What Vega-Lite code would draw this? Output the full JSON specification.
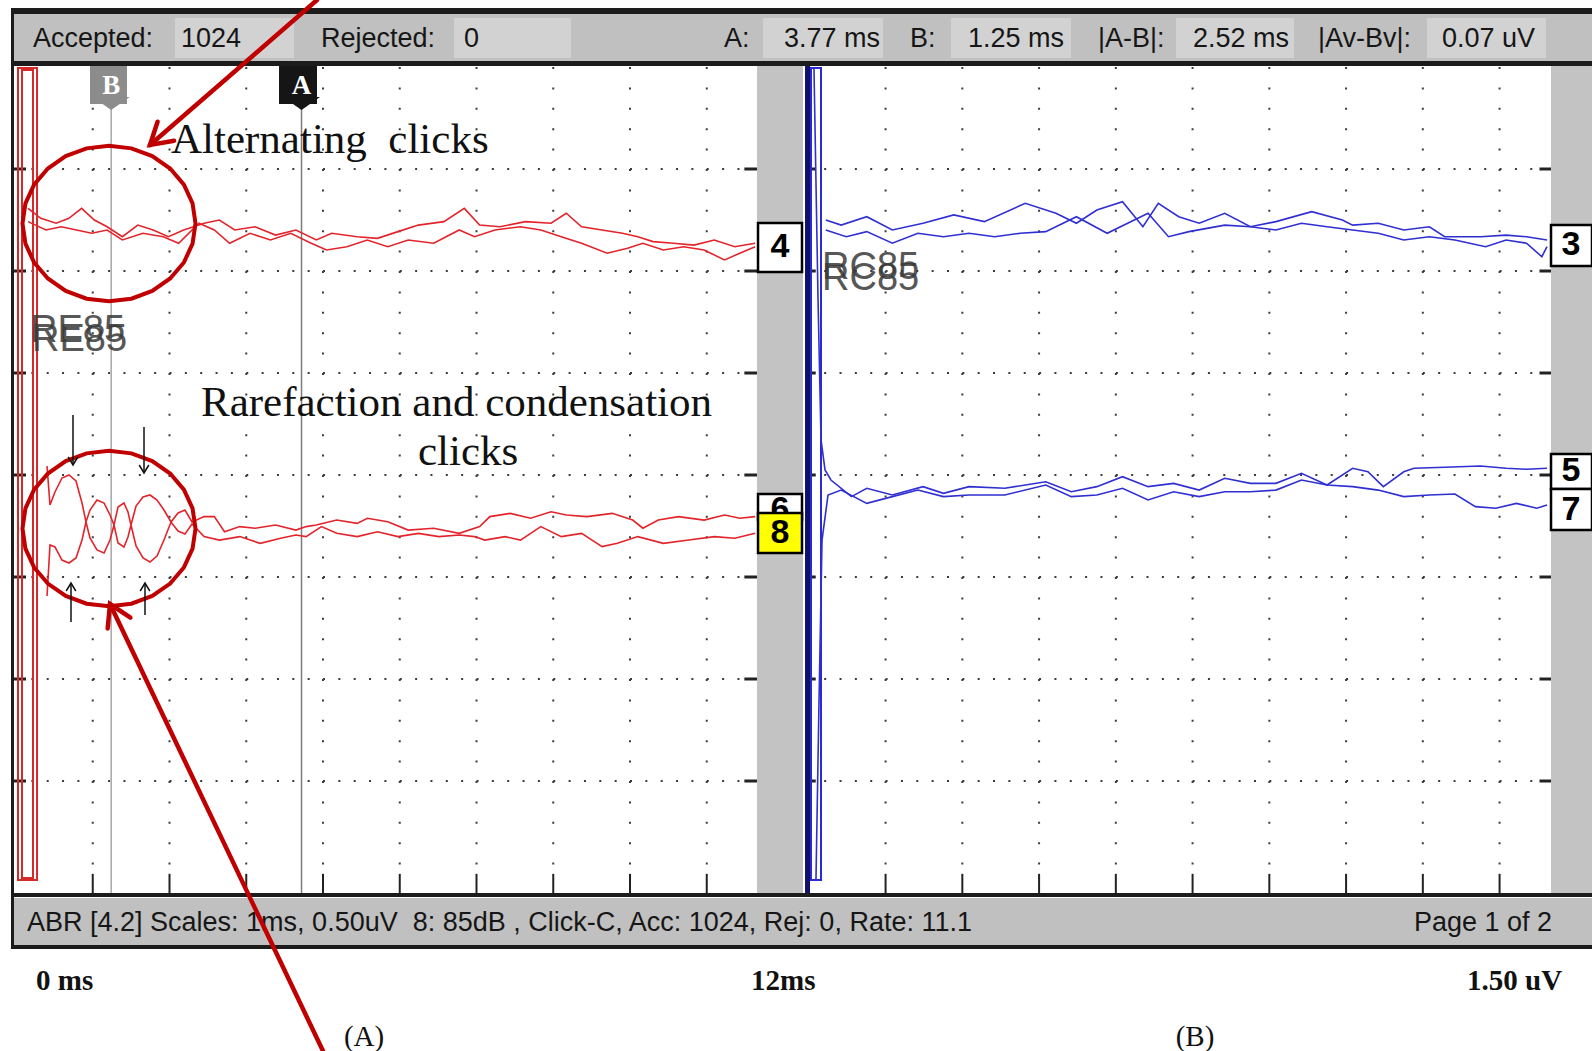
{
"$schema": "https://vega.github.io/schema/vega-lite/v6.json",
"width": 1592, "height": 1051,
"autosize": {"type": "none"},
"padding": 0,
"background": "#ffffff",
"config": {"view": {"stroke": null}, "axis": {"disable": true}, "legend": {"disable": true}},
"datasets": {
"rects": [
{"part":"dark","t":-0.0651,"t2":20.5342,"v":2.2892,"v2":2.2598},
{"part":"header","t":-0.0261,"t2":20.5342,"v":2.2598,"v2":2.0294},
{"part":"box","t":2.0717,"t2":3.6221,"v":2.2402,"v2":2.0441},
{"part":"box","t":5.7068,"t2":7.2313,"v":2.2402,"v2":2.0441},
{"part":"box","t":9.7329,"t2":11.2964,"v":2.2402,"v2":2.0441},
{"part":"box","t":12.1824,"t2":13.7459,"v":2.2402,"v2":2.0441},
{"part":"box","t":15.114,"t2":16.652,"v":2.2402,"v2":2.0441},
{"part":"box","t":18.384,"t2":19.935,"v":2.2402,"v2":2.0441},
{"part":"dark","t":-0.0651,"t2":20.5342,"v":2.0294,"v2":2.0049},
{"part":"strip","t":9.6547,"t2":10.2541,"v":2.0049,"v2":-2.049},
{"part":"strip","t":20.0,"t2":20.5342,"v":2.0049,"v2":-2.049},
{"part":"dark","t":-0.0651,"t2":20.5342,"v":-2.049,"v2":-2.0686},
{"part":"header","t":-0.0261,"t2":20.5342,"v":-2.0735,"v2":-2.3039},
{"part":"dark","t":-0.0651,"t2":20.5342,"v":-2.3039,"v2":-2.3235},
{"part":"dark","t":-0.0651,"t2":-0.0261,"v":2.2892,"v2":-2.3235}
],
"vgrid": [
{"kind":"dot","t":1,"v":2.0,"v2":-2.0},{"kind":"dot","t":2,"v":2.0,"v2":-2.0},{"kind":"dot","t":3,"v":2.0,"v2":-2.0},{"kind":"dot","t":4,"v":2.0,"v2":-2.0},{"kind":"dot","t":5,"v":2.0,"v2":-2.0},{"kind":"dot","t":6,"v":2.0,"v2":-2.0},{"kind":"dot","t":7,"v":2.0,"v2":-2.0},{"kind":"dot","t":8,"v":2.0,"v2":-2.0},{"kind":"dot","t":9,"v":2.0,"v2":-2.0},
{"kind":"dot","t":11.33,"v":2.0,"v2":-2.0},{"kind":"dot","t":12.33,"v":2.0,"v2":-2.0},{"kind":"dot","t":13.33,"v":2.0,"v2":-2.0},{"kind":"dot","t":14.33,"v":2.0,"v2":-2.0},{"kind":"dot","t":15.33,"v":2.0,"v2":-2.0},{"kind":"dot","t":16.33,"v":2.0,"v2":-2.0},{"kind":"dot","t":17.33,"v":2.0,"v2":-2.0},{"kind":"dot","t":18.33,"v":2.0,"v2":-2.0},{"kind":"dot","t":19.33,"v":2.0,"v2":-2.0},
{"kind":"tick","t":1,"v":-1.955,"v2":-2.049},{"kind":"tick","t":2,"v":-1.955,"v2":-2.049},{"kind":"tick","t":3,"v":-1.955,"v2":-2.049},{"kind":"tick","t":4,"v":-1.955,"v2":-2.049},{"kind":"tick","t":5,"v":-1.955,"v2":-2.049},{"kind":"tick","t":6,"v":-1.955,"v2":-2.049},{"kind":"tick","t":7,"v":-1.955,"v2":-2.049},{"kind":"tick","t":8,"v":-1.955,"v2":-2.049},{"kind":"tick","t":9,"v":-1.955,"v2":-2.049},
{"kind":"tick","t":11.33,"v":-1.955,"v2":-2.049},{"kind":"tick","t":12.33,"v":-1.955,"v2":-2.049},{"kind":"tick","t":13.33,"v":-1.955,"v2":-2.049},{"kind":"tick","t":14.33,"v":-1.955,"v2":-2.049},{"kind":"tick","t":15.33,"v":-1.955,"v2":-2.049},{"kind":"tick","t":16.33,"v":-1.955,"v2":-2.049},{"kind":"tick","t":17.33,"v":-1.955,"v2":-2.049},{"kind":"tick","t":18.33,"v":-1.955,"v2":-2.049},{"kind":"tick","t":19.33,"v":-1.955,"v2":-2.049}
],
"hgrid": [
{"kind":"dot","v":1.5,"t":0,"t2":9.6547},{"kind":"dot","v":1.0,"t":0,"t2":9.6547},{"kind":"dot","v":0.5,"t":0,"t2":9.6547},{"kind":"dot","v":0.0,"t":0,"t2":9.6547},{"kind":"dot","v":-0.5,"t":0,"t2":9.6547},{"kind":"dot","v":-1.0,"t":0,"t2":9.6547},{"kind":"dot","v":-1.5,"t":0,"t2":9.6547},
{"kind":"dot","v":1.5,"t":10.33,"t2":20.0},{"kind":"dot","v":1.0,"t":10.33,"t2":20.0},{"kind":"dot","v":0.5,"t":10.33,"t2":20.0},{"kind":"dot","v":0.0,"t":10.33,"t2":20.0},{"kind":"dot","v":-0.5,"t":10.33,"t2":20.0},{"kind":"dot","v":-1.0,"t":10.33,"t2":20.0},{"kind":"dot","v":-1.5,"t":10.33,"t2":20.0},
{"kind":"dash","v":1.5,"t":-0.0261,"t2":0.13},{"kind":"dash","v":1.0,"t":-0.0261,"t2":0.13},{"kind":"dash","v":0.5,"t":-0.0261,"t2":0.13},{"kind":"dash","v":0.0,"t":-0.0261,"t2":0.13},{"kind":"dash","v":-0.5,"t":-0.0261,"t2":0.13},{"kind":"dash","v":-1.0,"t":-0.0261,"t2":0.13},{"kind":"dash","v":-1.5,"t":-0.0261,"t2":0.13},
{"kind":"dash","v":1.5,"t":9.49,"t2":9.6547},{"kind":"dash","v":1.0,"t":9.49,"t2":9.6547},{"kind":"dash","v":0.5,"t":9.49,"t2":9.6547},{"kind":"dash","v":0.0,"t":9.49,"t2":9.6547},{"kind":"dash","v":-0.5,"t":9.49,"t2":9.6547},{"kind":"dash","v":-1.0,"t":9.49,"t2":9.6547},{"kind":"dash","v":-1.5,"t":9.49,"t2":9.6547},
{"kind":"dash","v":1.5,"t":10.3,"t2":10.42},{"kind":"dash","v":1.0,"t":10.3,"t2":10.42},{"kind":"dash","v":0.5,"t":10.3,"t2":10.42},{"kind":"dash","v":0.0,"t":10.3,"t2":10.42},{"kind":"dash","v":-0.5,"t":10.3,"t2":10.42},{"kind":"dash","v":-1.0,"t":10.3,"t2":10.42},{"kind":"dash","v":-1.5,"t":10.3,"t2":10.42},
{"kind":"dash","v":1.5,"t":19.85,"t2":20.0},{"kind":"dash","v":1.0,"t":19.85,"t2":20.0},{"kind":"dash","v":0.5,"t":19.85,"t2":20.0},{"kind":"dash","v":0.0,"t":19.85,"t2":20.0},{"kind":"dash","v":-0.5,"t":19.85,"t2":20.0},{"kind":"dash","v":-1.0,"t":19.85,"t2":20.0},{"kind":"dash","v":-1.5,"t":19.85,"t2":20.0}
],
"cursors": [
{"name":"B","t":1.24,"t1":0.964,"t2":1.446,"v":2.0049,"vt":1.8186,"vb":-2.049,"vc":1.9069,"vp":1.7892},
{"name":"A","t":3.72,"t1":3.427,"t2":3.922,"v":2.0049,"vt":1.8186,"vb":-2.049,"vc":1.9069,"vp":1.7892}
],
"stimA": [{"t":0.026,"t2":0.274,"v":1.995,"v2":-1.985},{"t":0.0782,"t2":0.2215,"v":1.9853,"v2":-1.9755}],
"stimB": [{"t":10.3583,"t2":10.4886,"v":1.995,"v2":-1.985}],
"sep": [{"t":10.313,"v":2.0049,"v2":-2.049}],
"traces": [
{"p":"A","s":"A4-1","t":0.157,"v":1.307},{"p":"A","s":"A4-1","t":0.323,"v":1.258},{"p":"A","s":"A4-1","t":0.523,"v":1.234},{"p":"A","s":"A4-1","t":0.689,"v":1.258},{"p":"A","s":"A4-1","t":0.855,"v":1.307},{"p":"A","s":"A4-1","t":1.021,"v":1.25},{"p":"A","s":"A4-1","t":1.187,"v":1.217},{"p":"A","s":"A4-1","t":1.386,"v":1.168},{"p":"A","s":"A4-1","t":1.587,"v":1.225},{"p":"A","s":"A4-1","t":1.786,"v":1.201},{"p":"A","s":"A4-1","t":1.986,"v":1.168},{"p":"A","s":"A4-1","t":2.185,"v":1.201},{"p":"A","s":"A4-1","t":2.451,"v":1.234},{"p":"A","s":"A4-1","t":2.65,"v":1.25},{"p":"A","s":"A4-1","t":2.85,"v":1.201},{"p":"A","s":"A4-1","t":3.115,"v":1.217},{"p":"A","s":"A4-1","t":3.381,"v":1.176},{"p":"A","s":"A4-1","t":3.647,"v":1.201},{"p":"A","s":"A4-1","t":3.913,"v":1.152},{"p":"A","s":"A4-1","t":4.112,"v":1.185},{"p":"A","s":"A4-1","t":4.444,"v":1.168},{"p":"A","s":"A4-1","t":4.71,"v":1.16},{"p":"A","s":"A4-1","t":4.977,"v":1.193},{"p":"A","s":"A4-1","t":5.243,"v":1.225},{"p":"A","s":"A4-1","t":5.575,"v":1.242},{"p":"A","s":"A4-1","t":5.841,"v":1.307},{"p":"A","s":"A4-1","t":6.04,"v":1.225},{"p":"A","s":"A4-1","t":6.306,"v":1.217},{"p":"A","s":"A4-1","t":6.638,"v":1.242},{"p":"A","s":"A4-1","t":6.971,"v":1.234},{"p":"A","s":"A4-1","t":7.17,"v":1.283},{"p":"A","s":"A4-1","t":7.369,"v":1.217},{"p":"A","s":"A4-1","t":7.635,"v":1.201},{"p":"A","s":"A4-1","t":7.901,"v":1.185},{"p":"A","s":"A4-1","t":8.102,"v":1.168},{"p":"A","s":"A4-1","t":8.301,"v":1.144},{"p":"A","s":"A4-1","t":8.567,"v":1.136},{"p":"A","s":"A4-1","t":8.833,"v":1.127},{"p":"A","s":"A4-1","t":9.098,"v":1.152},{"p":"A","s":"A4-1","t":9.364,"v":1.119},{"p":"A","s":"A4-1","t":9.63,"v":1.136},
{"p":"A","s":"A4-2","t":0.157,"v":1.242},{"p":"A","s":"A4-2","t":0.39,"v":1.201},{"p":"A","s":"A4-2","t":0.589,"v":1.217},{"p":"A","s":"A4-2","t":0.788,"v":1.201},{"p":"A","s":"A4-2","t":0.988,"v":1.185},{"p":"A","s":"A4-2","t":1.187,"v":1.201},{"p":"A","s":"A4-2","t":1.386,"v":1.152},{"p":"A","s":"A4-2","t":1.653,"v":1.185},{"p":"A","s":"A4-2","t":1.919,"v":1.168},{"p":"A","s":"A4-2","t":2.119,"v":1.136},{"p":"A","s":"A4-2","t":2.384,"v":1.234},{"p":"A","s":"A4-2","t":2.584,"v":1.201},{"p":"A","s":"A4-2","t":2.783,"v":1.136},{"p":"A","s":"A4-2","t":3.049,"v":1.185},{"p":"A","s":"A4-2","t":3.315,"v":1.152},{"p":"A","s":"A4-2","t":3.58,"v":1.185},{"p":"A","s":"A4-2","t":3.846,"v":1.136},{"p":"A","s":"A4-2","t":4.046,"v":1.103},{"p":"A","s":"A4-2","t":4.311,"v":1.119},{"p":"A","s":"A4-2","t":4.577,"v":1.152},{"p":"A","s":"A4-2","t":4.844,"v":1.119},{"p":"A","s":"A4-2","t":5.11,"v":1.152},{"p":"A","s":"A4-2","t":5.442,"v":1.136},{"p":"A","s":"A4-2","t":5.775,"v":1.201},{"p":"A","s":"A4-2","t":5.974,"v":1.168},{"p":"A","s":"A4-2","t":6.24,"v":1.201},{"p":"A","s":"A4-2","t":6.572,"v":1.217},{"p":"A","s":"A4-2","t":6.838,"v":1.201},{"p":"A","s":"A4-2","t":7.104,"v":1.168},{"p":"A","s":"A4-2","t":7.369,"v":1.136},{"p":"A","s":"A4-2","t":7.702,"v":1.087},{"p":"A","s":"A4-2","t":7.967,"v":1.111},{"p":"A","s":"A4-2","t":8.168,"v":1.136},{"p":"A","s":"A4-2","t":8.434,"v":1.103},{"p":"A","s":"A4-2","t":8.7,"v":1.119},{"p":"A","s":"A4-2","t":8.965,"v":1.103},{"p":"A","s":"A4-2","t":9.231,"v":1.054},{"p":"A","s":"A4-2","t":9.431,"v":1.087},{"p":"A","s":"A4-2","t":9.63,"v":1.119},
{"p":"A","s":"A8-1","t":0.404,"v":0.0441},{"p":"A","s":"A8-1","t":0.443,"v":-0.147},{"p":"A","s":"A8-1","t":0.508,"v":-0.0833},{"p":"A","s":"A8-1","t":0.599,"v":-0.0147},{"p":"A","s":"A8-1","t":0.691,"v":0.0},{"p":"A","s":"A8-1","t":0.782,"v":-0.0294},{"p":"A","s":"A8-1","t":0.86,"v":-0.1373},{"p":"A","s":"A8-1","t":0.912,"v":-0.2304},{"p":"A","s":"A8-1","t":0.964,"v":-0.1716},{"p":"A","s":"A8-1","t":1.055,"v":-0.1225},{"p":"A","s":"A8-1","t":1.147,"v":-0.1373},{"p":"A","s":"A8-1","t":1.225,"v":-0.1961},{"p":"A","s":"A8-1","t":1.277,"v":-0.2451},{"p":"A","s":"A8-1","t":1.329,"v":-0.1569},{"p":"A","s":"A8-1","t":1.407,"v":-0.1373},{"p":"A","s":"A8-1","t":1.459,"v":-0.1814},{"p":"A","s":"A8-1","t":1.498,"v":-0.2451},{"p":"A","s":"A8-1","t":1.564,"v":-0.152},{"p":"A","s":"A8-1","t":1.655,"v":-0.1078},{"p":"A","s":"A8-1","t":1.746,"v":-0.098},{"p":"A","s":"A8-1","t":1.837,"v":-0.1225},{"p":"A","s":"A8-1","t":1.928,"v":-0.1716},{"p":"A","s":"A8-1","t":2.02,"v":-0.2304},{"p":"A","s":"A8-1","t":2.111,"v":-0.1863},{"p":"A","s":"A8-1","t":2.202,"v":-0.1716},{"p":"A","s":"A8-1","t":2.293,"v":-0.2304},{"p":"A","s":"A8-1","t":2.451,"v":-0.204},{"p":"A","s":"A8-1","t":2.584,"v":-0.204},{"p":"A","s":"A8-1","t":2.717,"v":-0.278},{"p":"A","s":"A8-1","t":2.916,"v":-0.253},{"p":"A","s":"A8-1","t":3.116,"v":-0.261},{"p":"A","s":"A8-1","t":3.382,"v":-0.245},{"p":"A","s":"A8-1","t":3.647,"v":-0.27},{"p":"A","s":"A8-1","t":3.78,"v":-0.253},{"p":"A","s":"A8-1","t":3.913,"v":-0.245},{"p":"A","s":"A8-1","t":4.179,"v":-0.221},{"p":"A","s":"A8-1","t":4.445,"v":-0.237},{"p":"A","s":"A8-1","t":4.578,"v":-0.212},{"p":"A","s":"A8-1","t":4.844,"v":-0.229},{"p":"A","s":"A8-1","t":5.11,"v":-0.27},{"p":"A","s":"A8-1","t":5.442,"v":-0.261},{"p":"A","s":"A8-1","t":5.775,"v":-0.286},{"p":"A","s":"A8-1","t":6.041,"v":-0.253},{"p":"A","s":"A8-1","t":6.174,"v":-0.204},{"p":"A","s":"A8-1","t":6.44,"v":-0.188},{"p":"A","s":"A8-1","t":6.705,"v":-0.212},{"p":"A","s":"A8-1","t":6.971,"v":-0.18},{"p":"A","s":"A8-1","t":7.171,"v":-0.196},{"p":"A","s":"A8-1","t":7.437,"v":-0.204},{"p":"A","s":"A8-1","t":7.769,"v":-0.188},{"p":"A","s":"A8-1","t":8.035,"v":-0.221},{"p":"A","s":"A8-1","t":8.168,"v":-0.261},{"p":"A","s":"A8-1","t":8.368,"v":-0.221},{"p":"A","s":"A8-1","t":8.633,"v":-0.204},{"p":"A","s":"A8-1","t":8.966,"v":-0.221},{"p":"A","s":"A8-1","t":9.232,"v":-0.196},{"p":"A","s":"A8-1","t":9.431,"v":-0.212},{"p":"A","s":"A8-1","t":9.631,"v":-0.204},
{"p":"A","s":"A8-2","t":0.404,"v":-0.5931},{"p":"A","s":"A8-2","t":0.443,"v":-0.3431},{"p":"A","s":"A8-2","t":0.508,"v":-0.3529},{"p":"A","s":"A8-2","t":0.599,"v":-0.4167},{"p":"A","s":"A8-2","t":0.691,"v":-0.4314},{"p":"A","s":"A8-2","t":0.782,"v":-0.4069},{"p":"A","s":"A8-2","t":0.86,"v":-0.3186},{"p":"A","s":"A8-2","t":0.912,"v":-0.2304},{"p":"A","s":"A8-2","t":0.964,"v":-0.3088},{"p":"A","s":"A8-2","t":1.055,"v":-0.3676},{"p":"A","s":"A8-2","t":1.147,"v":-0.3824},{"p":"A","s":"A8-2","t":1.225,"v":-0.3186},{"p":"A","s":"A8-2","t":1.277,"v":-0.2451},{"p":"A","s":"A8-2","t":1.329,"v":-0.3333},{"p":"A","s":"A8-2","t":1.407,"v":-0.3529},{"p":"A","s":"A8-2","t":1.459,"v":-0.3039},{"p":"A","s":"A8-2","t":1.498,"v":-0.2451},{"p":"A","s":"A8-2","t":1.564,"v":-0.348},{"p":"A","s":"A8-2","t":1.655,"v":-0.4069},{"p":"A","s":"A8-2","t":1.746,"v":-0.4265},{"p":"A","s":"A8-2","t":1.837,"v":-0.3971},{"p":"A","s":"A8-2","t":1.928,"v":-0.3186},{"p":"A","s":"A8-2","t":2.02,"v":-0.2304},{"p":"A","s":"A8-2","t":2.111,"v":-0.2745},{"p":"A","s":"A8-2","t":2.202,"v":-0.2892},{"p":"A","s":"A8-2","t":2.293,"v":-0.2402},{"p":"A","s":"A8-2","t":2.451,"v":-0.302},{"p":"A","s":"A8-2","t":2.65,"v":-0.319},{"p":"A","s":"A8-2","t":2.916,"v":-0.302},{"p":"A","s":"A8-2","t":3.182,"v":-0.335},{"p":"A","s":"A8-2","t":3.448,"v":-0.31},{"p":"A","s":"A8-2","t":3.647,"v":-0.294},{"p":"A","s":"A8-2","t":3.78,"v":-0.302},{"p":"A","s":"A8-2","t":3.98,"v":-0.253},{"p":"A","s":"A8-2","t":4.179,"v":-0.286},{"p":"A","s":"A8-2","t":4.445,"v":-0.302},{"p":"A","s":"A8-2","t":4.711,"v":-0.278},{"p":"A","s":"A8-2","t":4.977,"v":-0.302},{"p":"A","s":"A8-2","t":5.243,"v":-0.286},{"p":"A","s":"A8-2","t":5.509,"v":-0.302},{"p":"A","s":"A8-2","t":5.775,"v":-0.294},{"p":"A","s":"A8-2","t":5.974,"v":-0.302},{"p":"A","s":"A8-2","t":6.107,"v":-0.319},{"p":"A","s":"A8-2","t":6.373,"v":-0.302},{"p":"A","s":"A8-2","t":6.573,"v":-0.319},{"p":"A","s":"A8-2","t":6.838,"v":-0.253},{"p":"A","s":"A8-2","t":7.104,"v":-0.302},{"p":"A","s":"A8-2","t":7.37,"v":-0.286},{"p":"A","s":"A8-2","t":7.636,"v":-0.351},{"p":"A","s":"A8-2","t":7.836,"v":-0.335},{"p":"A","s":"A8-2","t":8.102,"v":-0.302},{"p":"A","s":"A8-2","t":8.434,"v":-0.335},{"p":"A","s":"A8-2","t":8.766,"v":-0.319},{"p":"A","s":"A8-2","t":9.099,"v":-0.302},{"p":"A","s":"A8-2","t":9.365,"v":-0.31},{"p":"A","s":"A8-2","t":9.631,"v":-0.286},
{"p":"B","s":"B3-1","t":10.551,"v":1.25},{"p":"B","s":"B3-1","t":10.751,"v":1.225},{"p":"B","s":"B3-1","t":11.085,"v":1.266},{"p":"B","s":"B3-1","t":11.418,"v":1.201},{"p":"B","s":"B3-1","t":11.818,"v":1.234},{"p":"B","s":"B3-1","t":12.218,"v":1.275},{"p":"B","s":"B3-1","t":12.617,"v":1.242},{"p":"B","s":"B3-1","t":13.15,"v":1.332},{"p":"B","s":"B3-1","t":13.55,"v":1.283},{"p":"B","s":"B3-1","t":13.817,"v":1.234},{"p":"B","s":"B3-1","t":14.083,"v":1.299},{"p":"B","s":"B3-1","t":14.417,"v":1.34},{"p":"B","s":"B3-1","t":14.683,"v":1.217},{"p":"B","s":"B3-1","t":14.883,"v":1.332},{"p":"B","s":"B3-1","t":15.15,"v":1.266},{"p":"B","s":"B3-1","t":15.416,"v":1.234},{"p":"B","s":"B3-1","t":15.749,"v":1.283},{"p":"B","s":"B3-1","t":16.083,"v":1.217},{"p":"B","s":"B3-1","t":16.416,"v":1.242},{"p":"B","s":"B3-1","t":16.882,"v":1.291},{"p":"B","s":"B3-1","t":17.282,"v":1.25},{"p":"B","s":"B3-1","t":17.415,"v":1.225},{"p":"B","s":"B3-1","t":17.749,"v":1.234},{"p":"B","s":"B3-1","t":18.082,"v":1.201},{"p":"B","s":"B3-1","t":18.415,"v":1.217},{"p":"B","s":"B3-1","t":18.615,"v":1.168},{"p":"B","s":"B3-1","t":19.081,"v":1.168},{"p":"B","s":"B3-1","t":19.415,"v":1.176},{"p":"B","s":"B3-1","t":19.681,"v":1.168},{"p":"B","s":"B3-1","t":19.948,"v":1.152},
{"p":"B","s":"B3-2","t":10.551,"v":1.201},{"p":"B","s":"B3-2","t":10.818,"v":1.168},{"p":"B","s":"B3-2","t":11.085,"v":1.193},{"p":"B","s":"B3-2","t":11.418,"v":1.136},{"p":"B","s":"B3-2","t":11.751,"v":1.185},{"p":"B","s":"B3-2","t":12.084,"v":1.168},{"p":"B","s":"B3-2","t":12.417,"v":1.185},{"p":"B","s":"B3-2","t":12.751,"v":1.168},{"p":"B","s":"B3-2","t":13.084,"v":1.185},{"p":"B","s":"B3-2","t":13.417,"v":1.193},{"p":"B","s":"B3-2","t":13.817,"v":1.266},{"p":"B","s":"B3-2","t":14.217,"v":1.185},{"p":"B","s":"B3-2","t":14.75,"v":1.283},{"p":"B","s":"B3-2","t":15.016,"v":1.168},{"p":"B","s":"B3-2","t":15.283,"v":1.193},{"p":"B","s":"B3-2","t":15.749,"v":1.225},{"p":"B","s":"B3-2","t":16.083,"v":1.217},{"p":"B","s":"B3-2","t":16.416,"v":1.201},{"p":"B","s":"B3-2","t":16.749,"v":1.234},{"p":"B","s":"B3-2","t":17.082,"v":1.217},{"p":"B","s":"B3-2","t":17.415,"v":1.201},{"p":"B","s":"B3-2","t":17.749,"v":1.185},{"p":"B","s":"B3-2","t":18.082,"v":1.152},{"p":"B","s":"B3-2","t":18.415,"v":1.168},{"p":"B","s":"B3-2","t":18.748,"v":1.152},{"p":"B","s":"B3-2","t":19.148,"v":1.119},{"p":"B","s":"B3-2","t":19.415,"v":1.152},{"p":"B","s":"B3-2","t":19.681,"v":1.136},{"p":"B","s":"B3-2","t":19.881,"v":1.07},{"p":"B","s":"B3-2","t":19.948,"v":1.119},
{"p":"B","s":"B5","t":10.397,"v":1.995},{"p":"B","s":"B5","t":10.45,"v":0.858},{"p":"B","s":"B5","t":10.489,"v":0.172},{"p":"B","s":"B5","t":10.541,"v":0.025},{"p":"B","s":"B5","t":10.618,"v":-0.0245},{"p":"B","s":"B5","t":10.885,"v":-0.106},{"p":"B","s":"B5","t":11.085,"v":-0.065},{"p":"B","s":"B5","t":11.418,"v":-0.098},{"p":"B","s":"B5","t":11.818,"v":-0.057},{"p":"B","s":"B5","t":12.084,"v":-0.09},{"p":"B","s":"B5","t":12.417,"v":-0.057},{"p":"B","s":"B5","t":12.884,"v":-0.065},{"p":"B","s":"B5","t":13.417,"v":-0.033},{"p":"B","s":"B5","t":13.75,"v":-0.082},{"p":"B","s":"B5","t":14.083,"v":-0.057},{"p":"B","s":"B5","t":14.417,"v":-0.008},{"p":"B","s":"B5","t":14.75,"v":-0.057},{"p":"B","s":"B5","t":15.083,"v":-0.041},{"p":"B","s":"B5","t":15.416,"v":-0.074},{"p":"B","s":"B5","t":15.749,"v":-0.016},{"p":"B","s":"B5","t":16.083,"v":-0.041},{"p":"B","s":"B5","t":16.416,"v":-0.041},{"p":"B","s":"B5","t":16.749,"v":0.008},{"p":"B","s":"B5","t":17.082,"v":-0.049},{"p":"B","s":"B5","t":17.415,"v":0.033},{"p":"B","s":"B5","t":17.615,"v":0.016},{"p":"B","s":"B5","t":17.815,"v":-0.057},{"p":"B","s":"B5","t":18.082,"v":0.016},{"p":"B","s":"B5","t":18.215,"v":0.033},{"p":"B","s":"B5","t":18.615,"v":0.038},{"p":"B","s":"B5","t":19.081,"v":0.044},{"p":"B","s":"B5","t":19.415,"v":0.033},{"p":"B","s":"B5","t":19.681,"v":0.028},{"p":"B","s":"B5","t":19.948,"v":0.033},
{"p":"B","s":"B7","t":10.423,"v":-1.985},{"p":"B","s":"B7","t":10.463,"v":-1.103},{"p":"B","s":"B7","t":10.502,"v":-0.319},{"p":"B","s":"B7","t":10.58,"v":-0.098},{"p":"B","s":"B7","t":10.751,"v":-0.074},{"p":"B","s":"B7","t":11.085,"v":-0.139},{"p":"B","s":"B7","t":11.418,"v":-0.106},{"p":"B","s":"B7","t":11.751,"v":-0.074},{"p":"B","s":"B7","t":12.084,"v":-0.106},{"p":"B","s":"B7","t":12.417,"v":-0.098},{"p":"B","s":"B7","t":12.884,"v":-0.098},{"p":"B","s":"B7","t":13.417,"v":-0.049},{"p":"B","s":"B7","t":13.75,"v":-0.106},{"p":"B","s":"B7","t":14.083,"v":-0.098},{"p":"B","s":"B7","t":14.417,"v":-0.065},{"p":"B","s":"B7","t":14.75,"v":-0.1225},{"p":"B","s":"B7","t":15.083,"v":-0.082},{"p":"B","s":"B7","t":15.416,"v":-0.106},{"p":"B","s":"B7","t":15.749,"v":-0.082},{"p":"B","s":"B7","t":16.083,"v":-0.082},{"p":"B","s":"B7","t":16.416,"v":-0.074},{"p":"B","s":"B7","t":16.749,"v":-0.0245},{"p":"B","s":"B7","t":17.082,"v":-0.049},{"p":"B","s":"B7","t":17.415,"v":-0.057},{"p":"B","s":"B7","t":17.749,"v":-0.074},{"p":"B","s":"B7","t":18.082,"v":-0.106},{"p":"B","s":"B7","t":18.415,"v":-0.098},{"p":"B","s":"B7","t":18.748,"v":-0.093},{"p":"B","s":"B7","t":19.015,"v":-0.155},{"p":"B","s":"B7","t":19.281,"v":-0.163},{"p":"B","s":"B7","t":19.548,"v":-0.139},{"p":"B","s":"B7","t":19.815,"v":-0.163},{"p":"B","s":"B7","t":19.948,"v":-0.147}
],
"tags": [
{"lab":"4","sel":"no","t":9.668,"t2":10.241,"v":1.2353,"v2":0.9951,"tc":9.954,"vc":1.1176},
{"lab":"6","sel":"no","t":9.668,"t2":10.241,"v":-0.0931,"v2":-0.2206,"tc":9.954,"vc":-0.1716},
{"lab":"8","sel":"yes","t":9.668,"t2":10.241,"v":-0.1863,"v2":-0.3824,"tc":9.954,"vc":-0.2843},
{"lab":"3","sel":"no","t":20.0,"t2":20.5342,"v":1.2255,"v2":1.0245,"tc":20.26,"vc":1.1275},
{"lab":"5","sel":"no","t":20.0,"t2":20.5342,"v":0.1029,"v2":-0.0686,"tc":20.26,"vc":0.0196},
{"lab":"7","sel":"no","t":20.0,"t2":20.5342,"v":-0.0686,"v2":-0.2696,"tc":20.26,"vc":-0.1716}
],
"texts": [
{"style":"hdr","txt":"Accepted:","t":0.2215,"v":2.1373},
{"style":"hdr","txt":"1024","t":2.1498,"v":2.1373},
{"style":"hdr","txt":"Rejected:","t":3.9739,"v":2.1373},
{"style":"hdr","txt":"0","t":5.8371,"v":2.1373},
{"style":"hdr","txt":"A:","t":9.2248,"v":2.1373},
{"style":"hdr","txt":"3.77 ms","t":10.0065,"v":2.1373},
{"style":"hdr","txt":"B:","t":11.6482,"v":2.1373},
{"style":"hdr","txt":"1.25 ms","t":12.404,"v":2.1373},
{"style":"hdr","txt":"|A-B|:","t":14.098,"v":2.1373},
{"style":"hdr","txt":"2.52 ms","t":15.336,"v":2.1373},
{"style":"hdr","txt":"|Av-Bv|:","t":16.964,"v":2.1373},
{"style":"hdr","txt":"0.07 uV","t":18.58,"v":2.1373},
{"style":"hdr","txt":"ABR [4.2] Scales: 1ms, 0.50uV\u00a0 8: 85dB , Click-C, Acc: 1024, Rej: 0, Rate: 11.1","t":0.1433,"v":-2.1961},
{"style":"hdr","txt":"Page 1 of 2","t":18.215,"v":-2.1961},
{"style":"ann","txt":"Alternating\u00a0 clicks","t":2.0195,"v":1.6422},
{"style":"ann","txt":"Rarefaction and condensation","t":2.4104,"v":0.3529},
{"style":"ann","txt":"clicks","t":5.2378,"v":0.1127},
{"style":"bot","txt":"0 ms","t":0.2606,"v":-2.4804},
{"style":"bot","txt":"12ms","t":9.5765,"v":-2.4804},
{"style":"bot","txt":"1.50 uV","t":18.9055,"v":-2.4804},
{"style":"cap","txt":"(A)","t":4.5342,"v":-2.7549},
{"style":"cap","txt":"(B)","t":15.3616,"v":-2.7549},
{"style":"rc","txt":"RC85","t":10.5016,"v":1.0147},
{"style":"rc","txt":"RC85","t":10.5016,"v":0.9608},
{"style":"rc","txt":"RE85","t":0.1824,"v":0.7059},
{"style":"rc","txt":"RE85","t":0.2084,"v":0.6618}
],
"rings": [{"t":1.2117,"v":1.2328},{"t":1.2117,"v":-0.2623}],
"redarrows": [
{"a":"top","t":3.9218,"v":2.3284},{"a":"top","t":1.7459,"v":1.6176},
{"a":"bottom","t":4.0,"v":-2.8235},{"a":"bottom","t":1.2248,"v":-0.6324}
],
"smallarrows": [
{"dir":"down","t":0.7427,"v":0.2941,"v2":0.049,"vh":0.049},
{"dir":"down","t":1.6678,"v":0.2353,"v2":0.0098,"vh":0.0098},
{"dir":"up","t":0.7166,"v":-0.5294,"v2":-0.7206,"vh":-0.5294},
{"dir":"up","t":1.6808,"v":-0.5294,"v2":-0.6863,"vh":-0.5294}
]
},
"encoding": {
"x": {"field":"t","type":"quantitative","scale":{"domain":[-0.2085,20.5342],"nice":false,"zero":false},"axis":null},
"y": {"field":"v","type":"quantitative","scale":{"domain":[-2.8235,2.3284],"nice":false,"zero":false},"axis":null}
},
"resolve": {"scale": {"color":"independent","fill":"independent","stroke":"independent"}},
"layer": [
{"data":{"name":"rects"},"mark":{"type":"rect"},
 "encoding":{"x2":{"field":"t2"},"y2":{"field":"v2"},
  "color":{"field":"part","type":"nominal","scale":{"domain":["dark","header","box","strip"],"range":["#1c1c1c","#c0c0c0","#d2d2d2","#c3c3c3"]},"legend":null}}},
{"data":{"name":"vgrid"},"transform":[{"filter":"datum.kind == 'dot'"}],"mark":{"type":"rule","strokeDash":[2,18.4],"strokeWidth":2,"color":"#3c3c3c"},
 "encoding":{"y2":{"field":"v2"}}},
{"data":{"name":"vgrid"},"transform":[{"filter":"datum.kind == 'tick'"}],"mark":{"type":"rule","strokeWidth":2,"color":"#222222"},
 "encoding":{"y2":{"field":"v2"}}},
{"data":{"name":"hgrid"},"transform":[{"filter":"datum.kind == 'dot'"}],"mark":{"type":"rule","strokeDash":[2,13.35],"strokeWidth":2,"color":"#3c3c3c"},
 "encoding":{"x2":{"field":"t2"}}},
{"data":{"name":"hgrid"},"transform":[{"filter":"datum.kind == 'dash'"}],"mark":{"type":"rule","strokeWidth":3,"color":"#222222"},
 "encoding":{"x2":{"field":"t2"}}},
{"data":{"name":"cursors"},"mark":{"type":"rule","strokeWidth":1.5},
 "encoding":{"y":{"field":"vt","type":"quantitative"},"y2":{"field":"vb"},
  "color":{"field":"name","type":"nominal","scale":{"domain":["B","A"],"range":["#a6a6a6","#7c7c7c"]},"legend":null}}},
{"data":{"name":"stimA"},"mark":{"type":"rect","filled":false,"stroke":"#d42a2a","strokeWidth":2},
 "encoding":{"x2":{"field":"t2"},"y2":{"field":"v2"}}},
{"data":{"name":"stimB"},"mark":{"type":"rect","filled":false,"stroke":"#2a2ad8","strokeWidth":2},
 "encoding":{"x2":{"field":"t2"},"y2":{"field":"v2"}}},
{"data":{"name":"sep"},"mark":{"type":"rule","strokeWidth":5,"color":"#10106a"},
 "encoding":{"y2":{"field":"v2"}}},
{"data":{"name":"traces"},"mark":{"type":"line","strokeWidth":1.6},
 "encoding":{"detail":{"field":"s"},
  "color":{"field":"p","type":"nominal","scale":{"domain":["A","B"],"range":["#e3242b","#2f2fd2"]},"legend":null}}},
{"data":{"name":"tags"},"transform":[{"filter":"datum.lab != '8'"}],"mark":{"type":"rect","stroke":"#000000","strokeWidth":2.5},
 "encoding":{"x2":{"field":"t2"},"y2":{"field":"v2"},
  "fill":{"field":"sel","type":"nominal","scale":{"domain":["no","yes"],"range":["#ffffff","#ffff00"]},"legend":null}}},
{"data":{"name":"tags"},"transform":[{"filter":"datum.lab != '8'"}],"mark":{"type":"text","font":"Liberation Sans","fontWeight":"bold","fontSize":34,"align":"center","baseline":"middle","color":"#000000"},
 "encoding":{"x":{"field":"tc","type":"quantitative"},"y":{"field":"vc","type":"quantitative"},"text":{"field":"lab"}}},
{"data":{"name":"tags"},"transform":[{"filter":"datum.lab == '8'"}],"mark":{"type":"rect","stroke":"#000000","strokeWidth":2.5},
 "encoding":{"x2":{"field":"t2"},"y2":{"field":"v2"},
  "fill":{"field":"sel","type":"nominal","scale":{"domain":["no","yes"],"range":["#ffffff","#ffff00"]},"legend":null}}},
{"data":{"name":"tags"},"transform":[{"filter":"datum.lab == '8'"}],"mark":{"type":"text","font":"Liberation Sans","fontWeight":"bold","fontSize":34,"align":"center","baseline":"middle","color":"#000000"},
 "encoding":{"x":{"field":"tc","type":"quantitative"},"y":{"field":"vc","type":"quantitative"},"text":{"field":"lab"}}},
{"data":{"name":"cursors"},"mark":{"type":"rect"},
 "encoding":{"x":{"field":"t1","type":"quantitative"},"x2":{"field":"t2"},"y2":{"field":"vt"},
  "color":{"field":"name","type":"nominal","scale":{"domain":["B","A"],"range":["#8c8c8c","#151515"]},"legend":null}}},
{"data":{"name":"cursors"},"mark":{"type":"point","shape":"M-1,-0.7L1,-0.7L0,0Z","size":1369,"filled":true,"opacity":1,"strokeWidth":0},
 "encoding":{"y":{"field":"vp","type":"quantitative"},
  "color":{"field":"name","type":"nominal","scale":{"domain":["B","A"],"range":["#8c8c8c","#151515"]},"legend":null}}},
{"data":{"name":"cursors"},"mark":{"type":"text","font":"Liberation Serif","fontWeight":"bold","fontSize":27,"align":"center","baseline":"middle","color":"#ffffff"},
 "encoding":{"y":{"field":"vc","type":"quantitative"},"text":{"field":"name"}}},
{"data":{"name":"texts"},"transform":[{"filter":"datum.style == 'hdr'"}],"mark":{"type":"text","font":"Liberation Sans","fontSize":27,"align":"left","baseline":"middle","color":"#161616"},
 "encoding":{"text":{"field":"txt"}}},
{"data":{"name":"texts"},"transform":[{"filter":"datum.style == 'ann'"}],"mark":{"type":"text","font":"Liberation Serif","fontSize":43,"align":"left","baseline":"middle","color":"#111111"},
 "encoding":{"text":{"field":"txt"}}},
{"data":{"name":"texts"},"transform":[{"filter":"datum.style == 'bot'"}],"mark":{"type":"text","font":"Liberation Serif","fontWeight":"bold","fontSize":29,"align":"left","baseline":"middle","color":"#111111"},
 "encoding":{"text":{"field":"txt"}}},
{"data":{"name":"texts"},"transform":[{"filter":"datum.style == 'cap'"}],"mark":{"type":"text","font":"Liberation Serif","fontSize":29,"align":"center","baseline":"middle","color":"#111111"},
 "encoding":{"text":{"field":"txt"}}},
{"data":{"name":"texts"},"transform":[{"filter":"datum.style == 'rc'"}],"mark":{"type":"text","font":"Liberation Sans","fontSize":38,"align":"left","baseline":"middle","color":"#3a3a3a","opacity":0.85},
 "encoding":{"text":{"field":"txt"}}},
{"data":{"name":"rings"},"mark":{"type":"point","shape":"M1,0L0.966,0.233L0.866,0.45L0.707,0.636L0.5,0.779L0.259,0.869L0,0.9L-0.259,0.869L-0.5,0.779L-0.707,0.636L-0.866,0.45L-0.966,0.233L-1,0L-0.966,-0.233L-0.866,-0.45L-0.707,-0.636L-0.5,-0.779L-0.259,-0.869L0,-0.9L0.259,-0.869L0.5,-0.779L0.707,-0.636L0.866,-0.45L0.966,-0.233Z","size":29929,"filled":false,"stroke":"#c00000","strokeWidth":4,"opacity":1}},
{"data":{"name":"redarrows"},"mark":{"type":"line","color":"#c00000","strokeWidth":4.5,"strokeCap":"round"},
 "encoding":{"detail":{"field":"a"}}},
{"data":{"name":"redarrows"},"transform":[{"filter":"datum.a == 'top' && datum.v < 2"}],"mark":{"type":"point","shape":"M-0.6,1L0,0L0.6,1","size":1764,"filled":false,"stroke":"#c00000","strokeWidth":4.5,"angle":229,"opacity":1,"strokeCap":"round"}},
{"data":{"name":"redarrows"},"transform":[{"filter":"datum.a == 'bottom' && datum.v > -2"}],"mark":{"type":"point","shape":"M-0.6,1L0,0L0.6,1","size":1764,"filled":false,"stroke":"#c00000","strokeWidth":4.5,"angle":334.5,"opacity":1,"strokeCap":"round"}},
{"data":{"name":"smallarrows"},"mark":{"type":"rule","strokeWidth":1.5,"color":"#111111"},
 "encoding":{"y2":{"field":"v2"}}},
{"data":{"name":"smallarrows"},"transform":[{"filter":"datum.dir == 'down'"}],"mark":{"type":"point","shape":"M-0.6,1L0,0L0.6,1","size":256,"filled":false,"stroke":"#111111","strokeWidth":1.5,"angle":180,"opacity":1},
 "encoding":{"y":{"field":"vh","type":"quantitative"}}},
{"data":{"name":"smallarrows"},"transform":[{"filter":"datum.dir == 'up'"}],"mark":{"type":"point","shape":"M-0.6,1L0,0L0.6,1","size":256,"filled":false,"stroke":"#111111","strokeWidth":1.5,"angle":0,"opacity":1},
 "encoding":{"y":{"field":"vh","type":"quantitative"}}}
]
}
